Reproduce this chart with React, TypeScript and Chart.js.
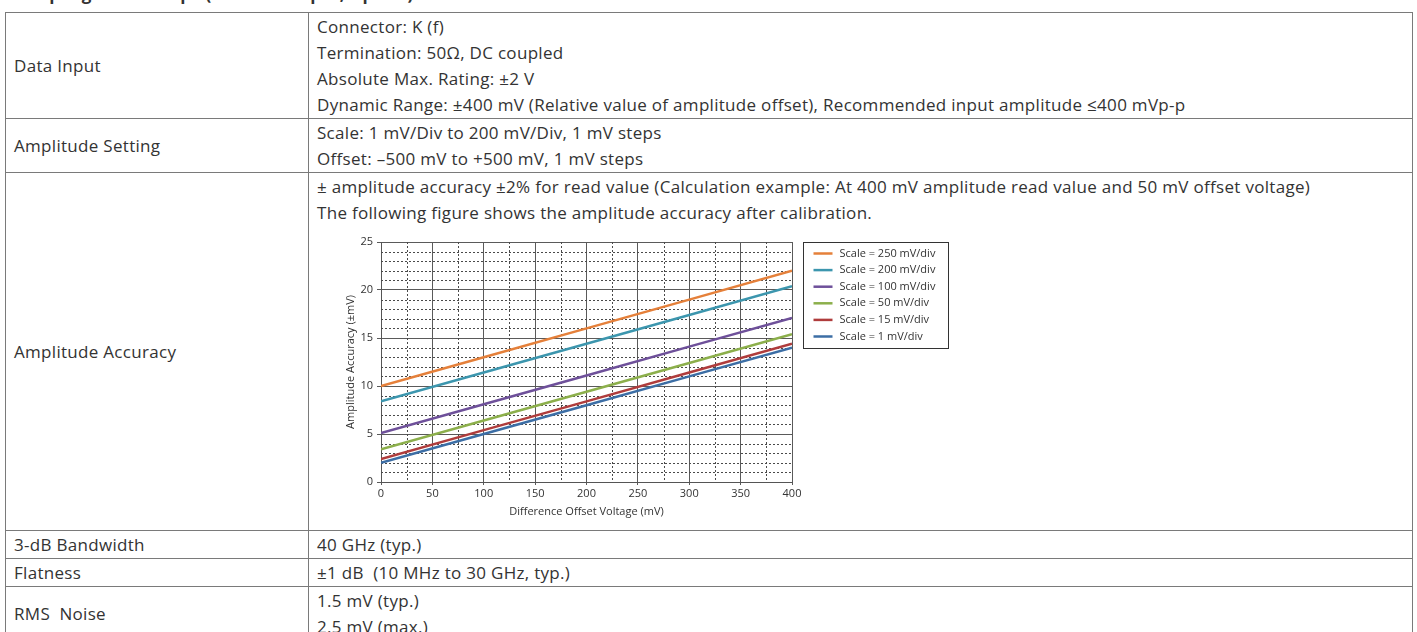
import React, { useEffect, useRef } from "react";
import { Chart, registerables } from "chart.js";

Chart.register(...registerables);

// ---------- chart data ----------
const offsetVoltage = [0, 100, 200, 300, 400];
const scaleLabels = [
  "Scale = 250 mV/div",
  "Scale = 200 mV/div",
  "Scale = 100 mV/div",
  "Scale = 50 mV/div",
  "Scale = 15 mV/div",
  "Scale = 1 mV/div",
];
const acc250 = [10.0, 13.0, 16.0, 19.0, 22.0];
const acc200 = [8.4, 11.4, 14.4, 17.4, 20.4];
const acc100 = [5.1, 8.1, 11.1, 14.1, 17.1];
const acc50 = [3.4, 6.4, 9.4, 12.4, 15.4];
const acc15 = [2.4, 5.4, 8.4, 11.4, 14.4];
const acc1 = [2.0, 5.0, 8.0, 11.0, 14.0];
const seriesValues = [acc250, acc200, acc100, acc50, acc15, acc1];
const seriesColors = ["#E5803A", "#3C96AE", "#6E509A", "#8CAF4B", "#AF3C3C", "#3C6EA5"];

const xMin = 0, xMax = 400, xMajor = 50, xMinor = 25;
const yMin = 0, yMax = 25, yMajor = 5, yMinor = 1;
const xTitle = "Difference Offset Voltage (mV)";
const yTitle = "Amplitude Accuracy (\u00B1mV)";

// ---------- table text ----------
const titleText = "Sampling Oscilloscope (Electrical Input, Option)";
const dataInputLines = [
  "Connector: K (f)",
  "Termination: 50\u03A9, DC coupled",
  "Absolute Max. Rating: \u00B12 V",
  "Dynamic Range: \u00B1400 mV (Relative value of amplitude offset), Recommended input amplitude \u2264400 mVp-p",
];
const amplitudeSettingLines = [
  "Scale: 1 mV/Div to 200 mV/Div, 1 mV steps",
  "Offset: \u2013500 mV to +500 mV, 1 mV steps",
];
const amplitudeAccuracyLines = [
  "\u00B1 amplitude accuracy \u00B12% for read value (Calculation example: At 400 mV amplitude read value and 50 mV offset voltage)",
  "The following figure shows the amplitude accuracy after calibration.",
];
const bandwidthLines = ["40 GHz (typ.)"];
const flatnessLines = ["\u00B11 dB  (10 MHz to 30 GHz, typ.)"];
const noiseLines = ["1.5 mV (typ.)", "2.5 mV (max.)"];

const FONT = '"Open Sans", "Noto Sans", sans-serif';

const minorGridPlugin = {
  id: "minorGrid",
  beforeDatasetsDraw(chart: any) {
    const { ctx, chartArea, scales } = chart;
    const xs = scales.x, ys = scales.y;
    ctx.save();
    ctx.strokeStyle = "#4a4a4a";
    ctx.lineWidth = 1;
    ctx.setLineDash([2, 2]);
    for (let v = xMin + xMinor; v < xMax; v += xMinor) {
      if (v % xMajor === 0) continue;
      const px = Math.round(xs.getPixelForValue(v)) + 0.5;
      ctx.beginPath();
      ctx.moveTo(px, chartArea.top);
      ctx.lineTo(px, chartArea.bottom);
      ctx.stroke();
    }
    for (let v = yMin + yMinor; v < yMax; v += yMinor) {
      if (v % yMajor === 0) continue;
      const py = Math.round(ys.getPixelForValue(v)) + 0.5;
      ctx.beginPath();
      ctx.moveTo(chartArea.left, py);
      ctx.lineTo(chartArea.right, py);
      ctx.stroke();
    }
    ctx.restore();
  },
};

const boxedLegendPlugin = {
  id: "boxedLegend",
  afterDraw(chart: any) {
    const { ctx, chartArea } = chart;
    const x0 = Math.round(chartArea.right + 11) + 0.5;
    const y0 = Math.round(chartArea.top) + 0.5;
    const w = 145, h = 106;
    ctx.save();
    ctx.strokeStyle = "#333";
    ctx.lineWidth = 1;
    ctx.strokeRect(x0, y0, w, h);
    ctx.font = `11px ${FONT}`;
    ctx.textBaseline = "middle";
    ctx.textAlign = "left";
    chart.data.datasets.forEach((ds: any, i: number) => {
      const y = y0 + 11 + i * 16.6;
      ctx.strokeStyle = ds.borderColor;
      ctx.lineWidth = 2.5;
      ctx.beginPath();
      ctx.moveTo(x0 + 10, y);
      ctx.lineTo(x0 + 29, y);
      ctx.stroke();
      ctx.fillStyle = "#333";
      ctx.fillText(ds.label, x0 + 36, y);
    });
    ctx.restore();
  },
};

function AccuracyChart() {
  const ref = useRef<HTMLCanvasElement | null>(null);
  useEffect(() => {
    if (!ref.current) return;
    const chart = new Chart(ref.current, {
      type: "line",
      data: {
        datasets: seriesValues.map((vals, i) => ({
          label: scaleLabels[i],
          data: offsetVoltage.map((x, j) => ({ x, y: vals[j] })),
          borderColor: seriesColors[i],
          backgroundColor: seriesColors[i],
          borderWidth: 2.5,
          pointRadius: 0,
          fill: false,
          tension: 0,
        })),
      },
      options: {
        animation: false,
        responsive: false,
        devicePixelRatio: 1,
        layout: { padding: { left: 0, right: 163, top: 16, bottom: 0 } },
        plugins: { legend: { display: false }, tooltip: { enabled: false } },
        scales: {
          x: {
            type: "linear",
            min: xMin,
            max: xMax,
            afterFit: (s: any) => { s.height = 48; },
            ticks: { stepSize: xMajor, color: "#333", padding: 2, font: { family: FONT, size: 11 } },
            grid: { color: "#5a5a5a", lineWidth: 1, drawTicks: true, tickLength: 3, tickColor: "#5a5a5a" },
            border: { display: true, color: "#555", width: 1 },
            title: { display: true, text: xTitle, color: "#333", font: { family: FONT, size: 11 }, padding: { top: 0, bottom: 12 } },
          },
          y: {
            type: "linear",
            min: yMin,
            max: yMax,
            afterFit: (s: any) => { s.width = 43; },
            ticks: { stepSize: yMajor, color: "#333", padding: 4, font: { family: FONT, size: 11 } },
            grid: { color: "#5a5a5a", lineWidth: 1, drawTicks: true, tickLength: 4, tickColor: "#5a5a5a" },
            border: { display: true, color: "#555", width: 1 },
            title: { display: true, text: yTitle, color: "#333", font: { family: FONT, size: 11 }, padding: { top: 6, bottom: 0 } },
          },
        },
      } as any,
      plugins: [minorGridPlugin, boxedLegendPlugin],
    });
    return () => chart.destroy();
  }, []);
  return <canvas ref={ref} width={617} height={304} style={{ display: "block", width: 617, height: 304 }} />;
}

const cellStyle: React.CSSProperties = {
  border: "1px solid #7a7a7a",
  padding: "1px 8px 0 8px",
  verticalAlign: "middle",
  lineHeight: "26px",
  whiteSpace: "pre",
};

function Lines({ lines }: { lines: string[] }) {
  return (
    <>
      {lines.map((t, i) => (
        <div key={i}>{t}</div>
      ))}
    </>
  );
}

export default function App() {
  return (
    <div
      style={{
        position: "absolute",
        left: 0,
        top: 0,
        width: 1417,
        height: 632,
        overflow: "hidden",
        background: "#fff",
        fontFamily: FONT,
        fontSize: 17,
        letterSpacing: "0.3px",
        color: "#333",
      }}
    >
      <div style={{ position: "absolute", left: 13, top: -16, fontWeight: 700, fontSize: 17, lineHeight: "20px", whiteSpace: "nowrap", letterSpacing: 0 }}>
        {titleText}
      </div>
      <table
        style={{
          position: "absolute",
          left: 5,
          top: 12,
          width: 1408,
          borderCollapse: "collapse",
          tableLayout: "fixed",
        }}
      >
        <colgroup>
          <col style={{ width: 303 }} />
          <col />
        </colgroup>
        <tbody>
          <tr>
            <td style={cellStyle}>Data Input</td>
            <td style={cellStyle}><Lines lines={dataInputLines} /></td>
          </tr>
          <tr>
            <td style={cellStyle}>Amplitude Setting</td>
            <td style={cellStyle}><Lines lines={amplitudeSettingLines} /></td>
          </tr>
          <tr>
            <td style={cellStyle}>Amplitude Accuracy</td>
            <td style={cellStyle}>
              <Lines lines={amplitudeAccuracyLines} />
              <div style={{ marginLeft: 21, width: 617, height: 304, letterSpacing: 0 }}>
                <AccuracyChart />
              </div>
            </td>
          </tr>
          <tr>
            <td style={cellStyle}>3-dB Bandwidth</td>
            <td style={cellStyle}><Lines lines={bandwidthLines} /></td>
          </tr>
          <tr>
            <td style={cellStyle}>Flatness</td>
            <td style={cellStyle}><Lines lines={flatnessLines} /></td>
          </tr>
          <tr>
            <td style={cellStyle}>{"RMS  Noise"}</td>
            <td style={cellStyle}><Lines lines={noiseLines} /></td>
          </tr>
        </tbody>
      </table>
    </div>
  );
}
